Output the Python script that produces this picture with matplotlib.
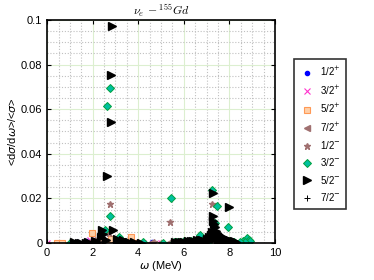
import numpy as np
import matplotlib.pyplot as plt
from matplotlib.ticker import MultipleLocator, FuncFormatter

# omega (MeV) and normalized <dsigma/domega>/<sigma> for each J^pi
w_12p = [1.30, 1.70, 2.20, 3.00, 3.60, 4.60, 5.60, 6.20, 7.00, 7.80, 8.60]
y_12p = [0.0005, 0.0008, 0.0004, 0.0010, 0.0003, 0.0003, 0.0002, 0.0003, 0.0005, 0.0004, 0.0002]

w_32p = [0.00, 1.70, 1.90, 2.10, 3.30, 4.20, 5.00, 6.50, 8.50, 8.70]
y_32p = [0.0000, 0.0002, 0.0015, 0.0002, 0.0005, 0.0002, 0.0000, 0.0001, 0.0002, 0.0006]

w_52p = [0.45, 0.65, 1.95, 2.30, 2.80, 3.50, 3.70, 4.00, 5.60, 6.00]
y_52p = [0.0000, 0.0000, 0.0045, 0.0010, 0.0018, 0.0005, 0.0028, 0.0000, 0.0003, 0.0002]

w_72p = [1.80, 2.00, 2.40, 3.10, 4.50, 5.30, 6.40, 7.10]
y_72p = [0.0000, 0.0008, 0.0006, 0.0004, 0.0000, 0.0002, 0.0002, 0.0003]

w_12m = [2.10, 2.70, 2.76, 3.40, 4.70, 5.00, 5.40, 7.22, 8.40]
y_12m = [0.0012, 0.0045, 0.0175, 0.0010, 0.0004, 0.0000, 0.0096, 0.0175, 0.0002]

w_32m = [1.00, 2.55, 2.62, 2.76, 2.76, 3.15, 4.20, 5.10, 5.42, 5.70, 6.10, 6.70,
         7.22, 7.37, 7.44, 7.94, 8.60, 8.76, 8.85, 8.90, 8.70, 6.00, 7.00, 7.60,
         5.55, 5.85, 6.30, 6.50, 6.85, 7.10, 7.80, 8.20, 8.45, 3.40, 3.70]
y_32m = [0.0002, 0.0060, 0.0614, 0.0695, 0.0120, 0.0025, 0.0003, 0.0001, 0.0200, 0.0004,
         0.0006, 0.0036, 0.0238, 0.0090, 0.0166, 0.0072, 0.0010, 0.0022, 0.0015, 0.0008,
         0.0003, 0.0010, 0.0012, 0.0016, 0.0005, 0.0003, 0.0008, 0.0006, 0.0014, 0.0009,
         0.0011, 0.0006, 0.0004, 0.0004, 0.0002]

w_52m = [1.20, 1.50, 1.80, 2.10, 2.40, 2.45, 2.63, 2.80, 2.84, 2.80, 2.90, 3.05, 3.20,
         3.50, 3.80, 4.10, 5.60, 5.80, 6.00, 6.20, 6.40, 6.60, 6.80, 7.00, 7.10,
         7.20, 7.25, 7.28, 7.30, 7.30, 7.32, 7.35, 7.40, 7.45, 7.50, 7.55, 7.60,
         7.70, 7.80, 7.90, 8.00, 8.00, 8.10, 8.20, 8.30, 5.90, 6.30, 6.70, 7.15,
         5.70, 5.95, 6.10, 6.25, 6.35, 6.50, 6.75, 6.90, 7.05, 7.35, 7.50, 7.65,
         7.75, 7.85, 7.95, 8.05, 8.15, 1.40, 1.70, 2.20, 2.60, 3.35, 3.60, 2.35]
y_52m = [0.0003, 0.0002, 0.0004, 0.0010, 0.0060, 0.0040, 0.0300, 0.0544, 0.0973, 0.0753,
         0.0060, 0.0020, 0.0008, 0.0005, 0.0003, 0.0002, 0.0003, 0.0005, 0.0006, 0.0008,
         0.0010, 0.0012, 0.0015, 0.0020, 0.0025, 0.0035, 0.0050, 0.0224, 0.0120, 0.0100,
         0.0085, 0.0070, 0.0055, 0.0045, 0.0040, 0.0035, 0.0030, 0.0025, 0.0020, 0.0015,
         0.0160, 0.0012, 0.0010, 0.0008, 0.0005, 0.0004, 0.0009, 0.0013, 0.0022,
         0.0001, 0.0002, 0.0001, 0.0004, 0.0002, 0.0005, 0.0006, 0.0009, 0.0011, 0.0022,
         0.0012, 0.0010, 0.0007, 0.0004, 0.0002, 0.0003, 0.0001, 0.0001, 0.0000, 0.0003,
         0.0015, 0.0012, 0.0004, 0.0025]

w_72m = [1.60, 2.50, 3.00, 3.90, 5.80, 6.60, 7.40, 8.20]
y_72m = [0.0002, 0.0010, 0.0004, 0.0002, 0.0002, 0.0004, 0.0010, 0.0003]

labels = ['1/2$^{+}$', '3/2$^{+}$', '5/2$^{+}$', '7/2$^{+}$',
          '1/2$^{-}$', '3/2$^{-}$', '5/2$^{-}$', '7/2$^{-}$']

plt.rcParams['font.family'] = ['Liberation Sans', 'DejaVu Sans']
plt.rcParams['mathtext.fontset'] = 'dejavusans'

fig = plt.figure(figsize=(3.74, 2.8), dpi=100)
ax = fig.add_axes([0.126, 0.132, 0.609, 0.797])

brown = '#a07070'
ax.plot(w_12p, y_12p, 'o', ms=3, mfc='#0000ff', mec='#0000ff', ls='none', label=labels[0])
ax.plot(w_32p, y_32p, 'x', ms=4.5, mec='#ff33cc', mew=0.8, ls='none', label=labels[1])
ax.plot(w_52p, y_52p, 's', ms=3.8, mfc='#ffd0a8', mec='#ff9955', mew=0.8, ls='none', label=labels[2])
ax.plot(w_72p, y_72p, '<', ms=5, mfc=brown, mec=brown, ls='none', label=labels[3])
ax.plot(w_12m, y_12m, '*', ms=5, mfc=brown, mec=brown, ls='none', label=labels[4])
ax.plot(w_32m, y_32m, 'D', ms=3.6, mfc='#00c0a0', mec='#00a040', mew=0.7, ls='none', label=labels[5])
ax.plot(w_52m, y_52m, '>', ms=5.2, mfc='k', mec='k', ls='none', label=labels[6])
ax.plot(w_72m, y_72m, '+', ms=4.5, mec='k', mew=0.7, ls='none', label=labels[7])

ax.set_xlim(0, 10)
ax.set_ylim(0, 0.1)
ax.xaxis.set_major_locator(MultipleLocator(2))
ax.xaxis.set_minor_locator(MultipleLocator(0.5))
ax.yaxis.set_major_locator(MultipleLocator(0.02))
ax.yaxis.set_minor_locator(MultipleLocator(0.005))
ax.yaxis.set_major_formatter(FuncFormatter(lambda v, p: '%g' % round(v, 4)))
ax.grid(which='major', color='#dcefd0', lw=0.8, ls='-')
ax.grid(which='minor', color='#c0c0c0', lw=0.8, ls=(0, (1, 1.6)))
ax.set_axisbelow(True)
ax.tick_params(which='both', direction='in', top=True, right=True, labelsize=8)
ax.tick_params(which='major', length=3, width=0.8)
ax.tick_params(which='minor', length=0)
for s in ax.spines.values():
    s.set_linewidth(1.2)

ax.set_xlabel(r'$\omega$ (MeV)', fontsize=8, labelpad=1)
ax.set_ylabel(r'<d$\sigma$/d$\omega$>/<$\sigma$>', fontsize=8, labelpad=2)
ax.set_title(r'$\nu_e\,-^{155}Gd$', fontsize=8.5, pad=3, math_fontfamily='cm')

leg = fig.legend(loc='upper left', bbox_to_anchor=(0.772, 0.805), fontsize=7,
                 frameon=True, fancybox=False, edgecolor='k', handlelength=1.5,
                 labelspacing=0.55, borderpad=0.6, handletextpad=0.6)
leg.get_frame().set_linewidth(1.2)

fig.savefig('out.png', dpi=100)
